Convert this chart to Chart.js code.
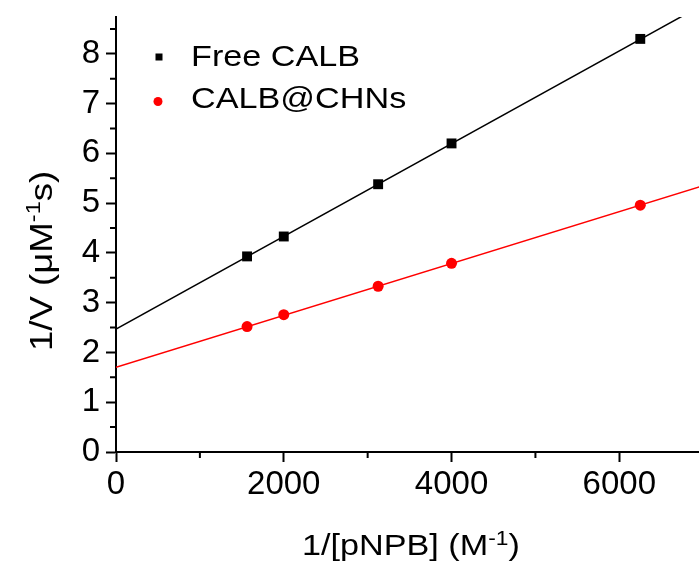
<!DOCTYPE html>
<html>
<head>
<meta charset="utf-8">
<script src="https://cdn.jsdelivr.net/npm/chart.js@4.4.0/dist/chart.umd.min.js"></script>
<style>
  html, body { margin:0; padding:0; background:#fff; }
  #wrap { width:699px; height:563px; position:relative; }
</style>
</head>
<body>
<div id="wrap"><canvas id="lbChart"></canvas></div>
<script>
// Lineweaver-Burk data, 1/[pNPB] in M^-1
const invSubstrate = [1562.5, 2000, 3125, 4000, 6250];
// 1/V values (uM^-1 s)
const freeCalb = [3.93, 4.33, 5.38, 6.20, 8.30];
const calbChns = [2.52, 2.76, 3.33, 3.79, 4.96];
// linear fits, read at both ends of the x range
const fitX = [0, 7000];
const freeFit = [2.47, 8.99];
const chnsFit = [1.70, 5.35];
// ticks
const xTicks = [0, 2000, 4000, 6000];
const xMinor = [1000, 3000, 5000];
const yTicks = [0, 1, 2, 3, 4, 5, 6, 7, 8];
const yMinor = [0.5, 1.5, 2.5, 3.5, 4.5, 5.5, 6.5, 7.5, 8.5];

const FONT = '"Liberation Sans", Arial, sans-serif';
const STRETCH = 1.14;

function pts(xs, ys){
  return xs.map((x, i) => ({x: x, y: ys[i]}));
}

// draw text pieces (for superscripts), already translated to start of baseline
function drawParts(ctx, parts){
  let x = 0;
  parts.forEach(p => {
    ctx.font = p.size + 'px ' + FONT;
    ctx.fillText(p.t, x, -(p.rise || 0));
    x += ctx.measureText(p.t).width;
  });
}

// no auto padding from the scales, the plot box is fixed
function fixBox(s, key, size){
  s[key] = size;
  s.paddingTop = 0; s.paddingBottom = 0; s.paddingLeft = 0; s.paddingRight = 0;
}

//minor ticks + titles + legend
const extras = {
  id: 'extras',
  afterDraw(chart){
    const ctx = chart.ctx;
    const xs = chart.scales.x, ys = chart.scales.y;
    const area = chart.chartArea;
    ctx.save();
    ctx.strokeStyle = '#000';
    ctx.lineWidth = 2;
    ctx.beginPath();
    xMinor.forEach(v => {
      const px = xs.getPixelForValue(v);
      ctx.moveTo(px, area.bottom);
      ctx.lineTo(px, area.bottom + 6);
    });
    yMinor.forEach(v => {
      const py = ys.getPixelForValue(v);
      ctx.moveTo(area.left, py);
      ctx.lineTo(area.left - 6, py);
    });
    ctx.stroke();

    ctx.fillStyle = '#000';
    ctx.textBaseline = 'alphabetic';
    ctx.textAlign = 'left';

    // x title
    ctx.save();
    ctx.translate(302, 555);
    ctx.scale(STRETCH, 1);
    drawParts(ctx, [{t:'1/[pNPB] (M', size:30}, {t:'-1', size:20, rise:10}, {t:')', size:30}]);
    ctx.restore();

    // y title
    ctx.save();
    ctx.translate(52, 351);
    ctx.rotate(-Math.PI / 2);
    ctx.scale(1.18, 1);
    drawParts(ctx, [{t:'1/V (\u03bcM', size:31}, {t:'-1', size:20, rise:12}, {t:'s)', size:31}]);
    ctx.restore();

    // legend
    const sets = chart.data.datasets;
    ctx.fillStyle = sets[0].backgroundColor;
    ctx.fillRect(155.5, 53.5, 7, 7);
    ctx.fillStyle = sets[1].backgroundColor;
    ctx.beginPath();
    ctx.arc(158, 101.5, 4.5, 0, Math.PI * 2);
    ctx.fill();
    ctx.fillStyle = '#000';
    ctx.font = '30px ' + FONT;
    [[sets[0].label, 66], [sets[1].label, 108]].forEach(l => {
      ctx.save();
      ctx.translate(191, l[1]);
      ctx.scale(STRETCH, 1);
      ctx.fillText(l[0], 0, 0);
      ctx.restore();
    });
    ctx.restore();
  }
};

const ctx = document.getElementById('lbChart');

new Chart(ctx, {
  type: 'scatter',
  data: {
    datasets: [{
      label: 'Free CALB',
      data: pts(invSubstrate, freeCalb),
      pointStyle: 'rect',
      pointRadius: 7,
      backgroundColor: '#000',
      borderColor: '#000',
      borderWidth: 0,
      order: 0
    }, {
      label: 'CALB@CHNs',
      data: pts(invSubstrate, calbChns),
      pointStyle: 'circle',
      pointRadius: 5.5,
      backgroundColor: '#f00',
      borderColor: '#f00',
      borderWidth: 0,
      order: 1
    }, {
      label: 'fit free',
      data: pts(fitX, freeFit),
      showLine: true,
      pointRadius: 0,
      borderColor: '#000',
      borderWidth: 1.5,
      order: 2
    }, {
      label: 'fit chns',
      data: pts(fitX, chnsFit),
      showLine: true,
      pointRadius: 0,
      borderColor: '#f00',
      borderWidth: 1.5,
      order: 3
    }]
  },
  options: {
    responsive: true,
    maintainAspectRatio: false,
    animation: false,
    layout: { autoPadding: false, padding: { top: 17, right: 0, left: 0, bottom: 0 } },
    plugins: {
      legend: { display: false },
      tooltip: { enabled: false }
    },
    scales: {
      x: {
        type: 'linear',
        min: 0,
        max: 6950,
        afterBuildTicks: s => { s.ticks = xTicks.map(v => ({value: v})); },
        afterFit: s => fixBox(s, 'height', 111),
        grid: { drawOnChartArea: false, drawTicks: true, tickLength: 10, tickWidth: 2, tickColor: '#000' },
        border: { display: true, color: '#000', width: 2 },
        ticks: {
          color: '#000',
          padding: 3,
          maxRotation: 0,
          font: { family: FONT, size: 33 },
          callback: v => String(v)
        }
      },
      y: {
        type: 'linear',
        min: 0,
        max: 8.74,
        afterBuildTicks: s => { s.ticks = yTicks.map(v => ({value: v})); },
        afterFit: s => fixBox(s, 'width', 116),
        grid: { drawOnChartArea: false, drawTicks: true, tickLength: 10, tickWidth: 2, tickColor: '#000' },
        border: { display: true, color: '#000', width: 2 },
        ticks: {
          color: '#000',
          padding: 6,
          font: { family: FONT, size: 33 },
          callback: v => String(v)
        }
      }
    }
  },
  plugins: [extras]
});
</script>
</body>
</html>
